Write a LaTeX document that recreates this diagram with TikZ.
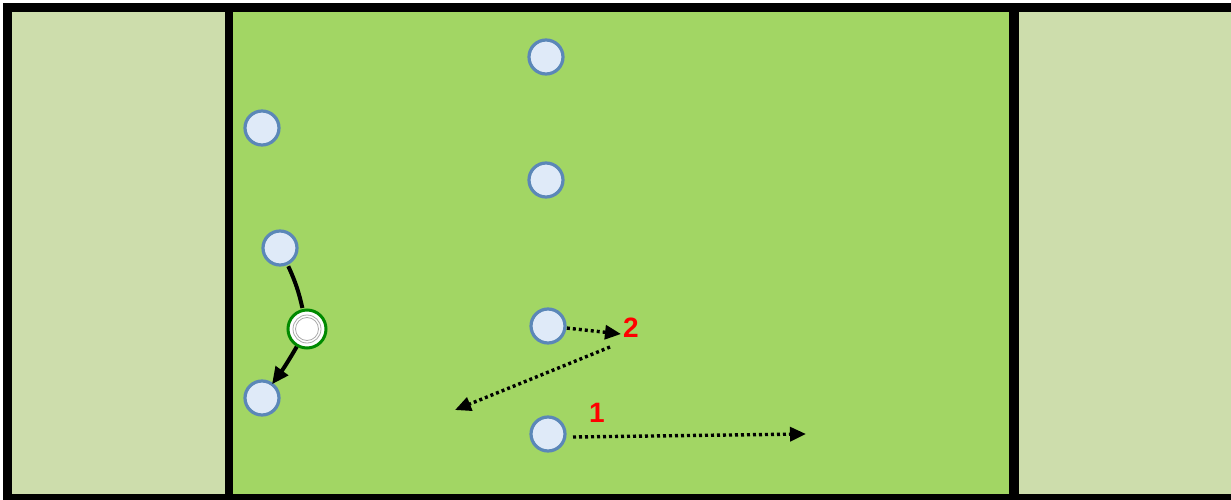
\documentclass[tikz,border=0pt]{standalone}
\usepackage{fontspec}
\setmainfont{Liberation Sans}
\usetikzlibrary{arrows.meta}
\definecolor{sidezone}{HTML}{CDDDAC}
\definecolor{midzone}{HTML}{A2D664}
\definecolor{plfill}{HTML}{DFEAF8}
\definecolor{plline}{HTML}{5B87B8}
\definecolor{ballgreen}{HTML}{008A00}
\definecolor{ringgray}{HTML}{AAAAAA}
\tikzset{
  player/.style={circle, fill=plfill, draw=plline, line width=3.2pt, minimum size=34pt, inner sep=0pt, outer sep=2pt},
  ballnode/.style={circle, fill=white, draw=ballgreen, line width=3pt, minimum size=38pt, inner sep=0pt},
  runarrow/.style={line width=3.4pt, dash pattern=on 3pt off 3pt, -{Triangle[length=16pt,width=14pt]}},
  passarrow/.style={line width=4pt, -{Triangle[length=17pt,width=15pt]}},
  numlabel/.style={text=red, font=\fontsize{28}{28}\selectfont\bfseries, inner sep=0pt},
  border/.style={line width=9pt, draw=black}
}
\begin{document}
\begin{tikzpicture}[x=1pt,y=-1pt]
\useasboundingbox (0,0) rectangle (1231,500);
% zones
\fill[sidezone] (7,8) rectangle (229,498);
\fill[midzone] (229,8) rectangle (1014,498);
\fill[sidezone] (1014,8) rectangle (1240,498);
% borders
\draw[border] (1245,8) -- (7.5,8) -- (7.5,498) -- (1245,498);
\draw[line width=8pt] (229,8) -- (229,498);
\draw[line width=10pt] (1014,8) -- (1014,498);
% players
\node[player] (p1) at (546,57) {};
\node[player] (p2) at (262,128) {};
\node[player] (p3) at (546,180) {};
\node[player] (p4) at (280,248) {};
\node[player] (p5) at (548,326) {};
\node[player] (p6) at (262,398) {};
\node[player] (p7) at (548,434) {};
% ball
\node[ballnode] (ball) at (307,329) {};
\draw[ringgray, line width=0.8pt] (ball.center) circle (14pt);
\draw[ringgray, line width=0.8pt] (ball.center) circle (11.5pt);
% pass and dribble
\draw[line width=4pt, shorten <=1pt, shorten >=1pt] (p4) to[bend left=6] (ball);
\draw[passarrow, shorten >=-2pt] (ball) to[bend left=3] (p6);
% runs
\coordinate (r2end) at (621,334);
\coordinate (r3start) at (610,347);
\coordinate (r3end) at (455,410);
\coordinate (r1start) at (573,437);
\coordinate (r1end) at (806,434);
\draw[runarrow] (p5) -- (r2end);
\draw[runarrow] (r3start) -- (r3end);
\draw[runarrow] (r1start) -- (r1end);
% labels
\node[numlabel] (n2) at (631,328) {2};
\node[numlabel] (n1) at (597,413) {1};
\end{tikzpicture}
\end{document}
